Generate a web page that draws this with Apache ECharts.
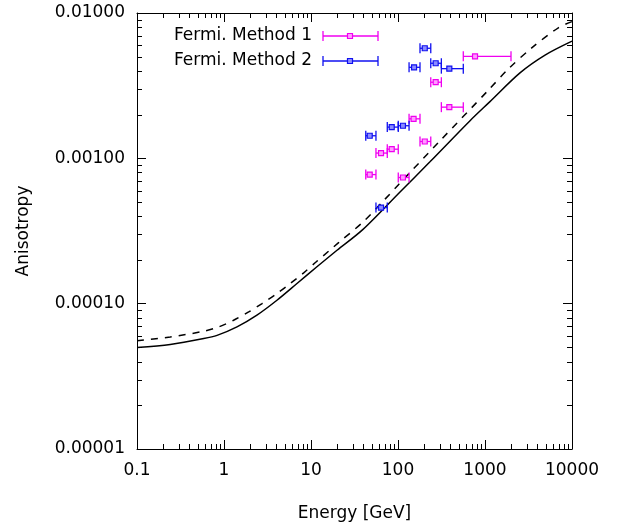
<!DOCTYPE html>
<html><head><meta charset="utf-8">
<script src="https://cdn.jsdelivr.net/npm/echarts@6.0.0/dist/echarts.min.js"></script>
<style>html,body{margin:0;padding:0;background:#fff}#c{width:624px;height:527px}</style>
</head><body><div id="c"></div>
<script>
// ---- data ----
const xTickLabels = ['0.1', '1', '10', '100', '1000', '10000'];
const yTickLabels = ['0.00001', '0.00010', '0.00100', '0.01000'];
const xMinorTicks = [0.2,0.3,0.4,0.5,0.6,0.7,0.8,0.9,2,3,4,5,6,7,8,9,20,30,40,50,60,70,80,90,200,300,400,500,600,700,800,900,2000,3000,4000,5000,6000,7000,8000,9000];
const yMinorTicks = [2e-5,3e-5,4e-5,5e-5,6e-5,7e-5,8e-5,9e-5,2e-4,3e-4,4e-4,5e-4,6e-4,7e-4,8e-4,9e-4,2e-3,3e-3,4e-3,5e-3,6e-3,7e-3,8e-3,9e-3];

const solidE = [0.1, 0.241, 0.585, 0.832, 1.41, 2.39, 4.06, 6.90, 11.7, 19.9, 39.3, 105.5, 233, 673, 1140, 2523, 4898, 10000];
const solidA = [4.99e-5, 5.24e-5, 5.75e-5, 6.05e-5, 6.92e-5, 8.34e-5, 1.056e-4, 1.377e-4, 1.795e-4, 2.33e-4, 3.23e-4, 5.87e-4, 9.46e-4, 1.815e-3, 2.455e-3, 3.87e-3, 5.13e-3, 6.40e-3];
const dashedE = [0.1, 0.241, 0.585, 0.869, 1.29, 1.92, 2.74, 4.06, 5.78, 8.24, 11.7, 16.0, 20.6, 39.9, 71.0, 100.7, 304, 1091, 1854, 3443, 6966, 10000];
const dashedA = [5.55e-5, 5.90e-5, 6.46e-5, 6.92e-5, 7.69e-5, 8.77e-5, 1.002e-4, 1.175e-4, 1.377e-4, 1.63e-4, 1.96e-4, 2.30e-4, 2.62e-4, 3.66e-4, 5.24e-4, 6.56e-4, 1.32e-3, 2.94e-3, 4.12e-3, 5.75e-3, 7.91e-3, 8.73e-3];

const m1E    = [47.3, 63.8, 84.7, 114, 151, 203, 271, 389, 768];
const m1Low  = [42.6, 55.8, 75.3, 100.7, 134, 179, 238, 315, 563];
const m1High = [55.8, 75.3, 100.7, 134, 179, 238, 315, 563, 1990];
const m1A    = [0.000773, 0.001087, 0.001156, 0.000738, 0.00187, 0.001306, 0.00334, 0.00225, 0.00503];

const m2E    = [47.3, 63.8, 84.7, 114, 153, 203, 271, 389];
const m2Low  = [42.6, 55.8, 75.3, 100.7, 134, 179, 238, 315];
const m2High = [55.8, 75.3, 100.7, 134, 179, 238, 315, 563];
const m2A    = [0.00143, 0.000458, 0.00164, 0.001676, 0.00423, 0.00572, 0.00451, 0.00414];

const legendNames = ['Fermi. Method 1', 'Fermi. Method 2'];
// ---- end data ----

const FONT = 'DejaVu Sans';
const FS = 17;
const MAG = '#f000f0', MAGF = '#ff9cff';
const BLU = '#1010f0', BLUF = '#8c8cff';

function zip(a, b) { return a.map((v, i) => [v, b[i]]); }
function errData(E, A, lo, hi) { return E.map((e, i) => [e, A[i], lo[i], hi[i]]); }

function errRender(color, fill) {
  return function (params, api) {
    const c = api.coord([api.value(0), api.value(1)]);
    const l = api.coord([api.value(2), api.value(1)]);
    const h = api.coord([api.value(3), api.value(1)]);
    const cap = 5, s = 2.5;
    const st = { stroke: color, lineWidth: 1.3 };
    return { type: 'group', children: [
      { type: 'line', shape: { x1: l[0], y1: l[1], x2: h[0], y2: h[1] }, style: st },
      { type: 'line', shape: { x1: l[0], y1: l[1] - cap, x2: l[0], y2: l[1] + cap }, style: st },
      { type: 'line', shape: { x1: h[0], y1: h[1] - cap, x2: h[0], y2: h[1] + cap }, style: st },
      { type: 'rect', shape: { x: c[0] - s, y: c[1] - s, width: 2 * s, height: 2 * s }, style: { stroke: color, fill: fill, lineWidth: 1.2 } }
    ]};
  };
}

const chart = echarts.init(document.getElementById('c'), null, { renderer: 'canvas' });

const axisCommon = {
  axisLine: { show: true, lineStyle: { color: '#000', width: 1 } },
  axisTick: { show: true, inside: true, length: 9, lineStyle: { color: '#000', width: 1 } },
  splitLine: { show: false },
  minorTick: { show: false },
  minorSplitLine: { show: false }
};

function legendItem(y, name, color, fill) {
  const x1 = 323, x2 = 378, xc = 350, cap = 5, s = 2.5;
  const st = { stroke: color, lineWidth: 1.3 };
  return [
    { type: 'text', x: 312, y: y, style: { text: name, font: FS + 'px "' + FONT + '"', fill: '#000', textAlign: 'right', textVerticalAlign: 'middle' } },
    { type: 'line', shape: { x1: x1, y1: y, x2: x2, y2: y }, style: st },
    { type: 'line', shape: { x1: x1, y1: y - cap, x2: x1, y2: y + cap }, style: st },
    { type: 'line', shape: { x1: x2, y1: y - cap, x2: x2, y2: y + cap }, style: st },
    { type: 'rect', shape: { x: xc - s, y: y - s, width: 2 * s, height: 2 * s }, style: { stroke: color, fill: fill, lineWidth: 1.2 } }
  ];
}

const option = {
  animation: false,
  backgroundColor: '#fff',
  textStyle: { fontFamily: FONT },
  grid: { left: 137, right: 52, top: 13, bottom: 78, containLabel: false },
  xAxis: [
    Object.assign({
      type: 'log', logBase: 10, min: 0.1, max: 10000, position: 'bottom',
      name: 'Energy [GeV]', nameLocation: 'middle', nameGap: 56,
      nameTextStyle: { fontFamily: FONT, fontSize: FS, color: '#000' },
      axisLabel: { show: true, margin: 13, fontFamily: FONT, fontSize: FS, color: '#000',
        formatter: v => xTickLabels[Math.round(Math.log10(v)) + 1] }
    }, axisCommon),
    Object.assign({
      type: 'log', logBase: 10, min: 0.1, max: 10000, position: 'top',
      axisLabel: { show: false }
    }, axisCommon)
  ],
  yAxis: [
    Object.assign({
      type: 'log', logBase: 10, min: 1e-5, max: 1e-2, position: 'left',
      name: 'Anisotropy', nameLocation: 'middle', nameGap: 105,
      nameTextStyle: { fontFamily: FONT, fontSize: FS, color: '#000' },
      axisLabel: { show: true, margin: 12, fontFamily: FONT, fontSize: FS, color: '#000',
        formatter: v => yTickLabels[Math.round(Math.log10(v)) + 5] }
    }, axisCommon),
    Object.assign({
      type: 'log', logBase: 10, min: 1e-5, max: 1e-2, position: 'right',
      axisLabel: { show: false }
    }, axisCommon)
  ],
  series: [
    {
      type: 'custom', name: 'xminor', silent: true, clip: false,
      data: xMinorTicks.map(v => [v, 1e-3]),
      encode: { x: 0, y: 1 },
      renderItem: function (params, api) {
        const cs = params.coordSys;
        const px = Math.round(api.coord([api.value(0), 1e-3])[0]) + 0.5;
        const st = { stroke: '#000', lineWidth: 1 };
        return { type: 'group', children: [
          { type: 'line', shape: { x1: px, y1: cs.y + cs.height, x2: px, y2: cs.y + cs.height - 5 }, style: st },
          { type: 'line', shape: { x1: px, y1: cs.y, x2: px, y2: cs.y + 5 }, style: st }
        ]};
      }
    },
    {
      type: 'custom', name: 'yminor', silent: true, clip: false,
      data: yMinorTicks.map(v => [1, v]),
      encode: { x: 0, y: 1 },
      renderItem: function (params, api) {
        const cs = params.coordSys;
        const py = Math.round(api.coord([1, api.value(1)])[1]) + 0.5;
        const st = { stroke: '#000', lineWidth: 1 };
        return { type: 'group', children: [
          { type: 'line', shape: { x1: cs.x, y1: py, x2: cs.x + 5, y2: py }, style: st },
          { type: 'line', shape: { x1: cs.x + cs.width, y1: py, x2: cs.x + cs.width - 5, y2: py }, style: st }
        ]};
      }
    },
    {
      type: 'line', name: 'solid', data: zip(solidE, solidA), showSymbol: false,
      smooth: 0.3,
      lineStyle: { color: '#000', width: 1.5, type: 'solid' }
    },
    {
      type: 'line', name: 'dashed', data: zip(dashedE, dashedA), showSymbol: false,
      smooth: 0.3,
      lineStyle: { color: '#000', width: 1.5, type: [7, 7] }
    },
    {
      type: 'custom', name: legendNames[0], data: errData(m1E, m1A, m1Low, m1High),
      encode: { x: [0, 2, 3], y: 1 }, renderItem: errRender(MAG, MAGF), z: 5
    },
    {
      type: 'custom', name: legendNames[1], data: errData(m2E, m2A, m2Low, m2High),
      encode: { x: [0, 2, 3], y: 1 }, renderItem: errRender(BLU, BLUF), z: 5
    }
  ],
  graphic: [].concat(legendItem(36, legendNames[0], MAG, MAGF), legendItem(61, legendNames[1], BLU, BLUF))
};
chart.setOption(option);
</script>
</body></html>
